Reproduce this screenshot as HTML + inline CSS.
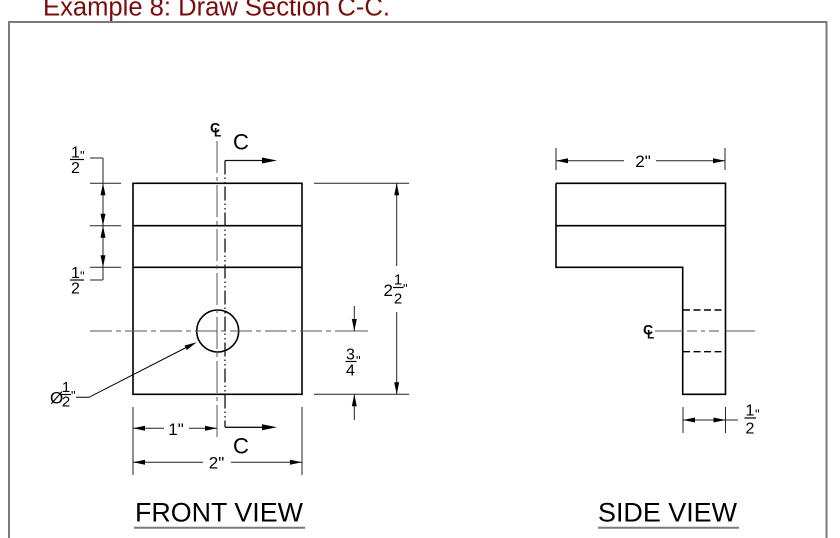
<!DOCTYPE html>
<html>
<head>
<meta charset="utf-8">
<style>
html,body{margin:0;padding:0;background:#fff;}
svg{display:block;}
text{font-family:"Liberation Sans",Arial,sans-serif;}
</style>
</head>
<body>
<svg width="840" height="538" viewBox="0 0 840 538" xmlns="http://www.w3.org/2000/svg">
<rect x="0" y="0" width="840" height="538" fill="#fff"/>
<!-- Title -->
<text x="43" y="15.5" font-size="25.5" fill="#7a0c0c" textLength="347" lengthAdjust="spacingAndGlyphs">Example 8: Draw Section C-C.</text>
<!-- Frame -->
<path d="M9 545 V22 H826.5 V545" stroke="#7a7a7a" stroke-width="2" fill="none"/>

<!-- ============ FRONT VIEW ============ -->
<g stroke="#000" stroke-width="1.6" fill="none">
  <rect x="133" y="183.3" width="169" height="211"/>
  <line x1="133" y1="225.7" x2="302" y2="225.7"/>
  <line x1="133" y1="267.3" x2="302" y2="267.3"/>
  <circle cx="217.7" cy="331" r="21"/>
</g>

<!-- centerlines -->
<g stroke="#555" stroke-width="1" fill="none">
  <line x1="217" y1="141" x2="217" y2="441" stroke-dasharray="32 4 4 4"/>
  <line x1="90" y1="331" x2="340" y2="331" stroke-dasharray="22 4 5 4"/>
  <line x1="340" y1="331" x2="368" y2="331"/>
</g>

<!-- CL symbol front -->
<text x="210" y="132.5" font-size="14" font-weight="bold" fill="#000">C</text>
<text x="214" y="136.5" font-size="12" font-weight="bold" fill="#000">L</text>

<!-- cutting plane C-C -->
<g stroke="#111" stroke-width="1.3" fill="none">
  <line x1="225" y1="160.5" x2="225" y2="427.3" stroke-dasharray="14 3 1.5 3 1.5 3"/>
  <line x1="225" y1="160.5" x2="264" y2="160.5"/>
  <line x1="225" y1="427.3" x2="264" y2="427.3"/>
</g>
<g fill="#000">
  <polygon points="262,157.5 277,160.5 262,163.5"/>
  <polygon points="262,424.3 277,427.3 262,430.3"/>
</g>
<text x="233" y="149.5" font-size="22" fill="#000">C</text>
<text x="233" y="453.5" font-size="22" fill="#000">C</text>

<!-- left dims -->
<g stroke="#222" stroke-width="1" fill="none">
  <line x1="90" y1="183.3" x2="121" y2="183.3"/>
  <line x1="90" y1="225.7" x2="121" y2="225.7"/>
  <line x1="90" y1="267.3" x2="121" y2="267.3"/>
  <line x1="103" y1="158" x2="103" y2="280"/>
  <line x1="90" y1="158" x2="103" y2="158"/>
  <line x1="90" y1="280" x2="103" y2="280"/>
</g>
<g fill="#000">
  <polygon points="103,183.3 100.5,195.3 105.5,195.3"/>
  <polygon points="103,225.7 100.5,213.7 105.5,213.7"/>
  <polygon points="103,225.7 100.5,237.7 105.5,237.7"/>
  <polygon points="103,267.3 100.5,255.3 105.5,255.3"/>
</g>
<g font-size="16" fill="#000">
  <text x="75.5" y="157.5" text-anchor="middle">1</text>
  <text x="75.5" y="173" text-anchor="middle">2</text>
  <text x="80" y="160" font-size="13">"</text>
  <text x="75.5" y="278" text-anchor="middle">1</text>
  <text x="75.5" y="293.5" text-anchor="middle">2</text>
  <text x="80" y="280.5" font-size="13">"</text>
</g>
<g stroke="#000" stroke-width="1.2">
  <line x1="70" y1="159.5" x2="84" y2="159.5"/>
  <line x1="70" y1="280" x2="84" y2="280"/>
</g>

<!-- right 2 1/2 dim -->
<g stroke="#222" stroke-width="1" fill="none">
  <line x1="314" y1="183.3" x2="409" y2="183.3"/>
  <line x1="314" y1="394.3" x2="409" y2="394.3"/>
  <line x1="396.7" y1="183.3" x2="396.7" y2="266"/>
  <line x1="396.7" y1="312" x2="396.7" y2="394.3"/>
  <line x1="354.3" y1="306" x2="354.3" y2="331"/>
  <line x1="354.3" y1="394.3" x2="354.3" y2="420"/>
</g>
<g fill="#000">
  <polygon points="396.7,183.3 394.2,195.3 399.2,195.3"/>
  <polygon points="396.7,394.3 394.2,382.3 399.2,382.3"/>
  <polygon points="354.3,331 351.8,319 356.8,319"/>
  <polygon points="354.3,394.3 351.8,406.3 356.8,406.3"/>
</g>
<text x="383.5" y="296" font-size="17" fill="#000">2</text>
<text x="398" y="284.5" font-size="15" fill="#000" text-anchor="middle">1</text>
<line x1="393" y1="287.5" x2="403.5" y2="287.5" stroke="#000" stroke-width="1.2"/>
<text x="398" y="303.5" font-size="15" fill="#000" text-anchor="middle">2</text>
<text x="403" y="293" font-size="13" fill="#000">"</text>

<text x="350.5" y="359.5" font-size="16" fill="#000" text-anchor="middle">3</text>
<line x1="345.5" y1="361.5" x2="356.5" y2="361.5" stroke="#000" stroke-width="1.2"/>
<text x="350.5" y="375.5" font-size="16" fill="#000" text-anchor="middle">4</text>
<text x="356" y="365" font-size="13" fill="#000">"</text>

<!-- bottom dims front -->
<g stroke="#222" stroke-width="1" fill="none">
  <line x1="133" y1="407" x2="133" y2="475"/>
  <line x1="302" y1="407" x2="302" y2="475"/>
  <line x1="133" y1="428.3" x2="164" y2="428.3"/>
  <line x1="189" y1="428.3" x2="217" y2="428.3"/>
  <line x1="133" y1="462.3" x2="203" y2="462.3"/>
  <line x1="231" y1="462.3" x2="302" y2="462.3"/>
</g>
<g fill="#000">
  <polygon points="133,428.3 145,425.8 145,430.8"/>
  <polygon points="217,428.3 205,425.8 205,430.8"/>
  <polygon points="133,462.3 145,459.8 145,464.8"/>
  <polygon points="302,462.3 290,459.8 290,464.8"/>
</g>
<text x="176" y="435" font-size="17" fill="#000" text-anchor="middle">1"</text>
<text x="216.5" y="468.5" font-size="17" fill="#000" text-anchor="middle">2"</text>

<!-- diameter leader -->
<polyline points="76,397.3 89,397.3 193,344" stroke="#000" stroke-width="1" fill="none"/>
<polygon points="196.7,342.3 184.5,345.5 186.8,350" fill="#000"/>
<text x="50" y="403.5" font-size="17" fill="#000">Ø</text>
<text x="66" y="392" font-size="15" fill="#000" text-anchor="middle">1</text>
<line x1="61" y1="394.5" x2="71" y2="394.5" stroke="#000" stroke-width="1.2"/>
<text x="66" y="406.5" font-size="15" fill="#000" text-anchor="middle">2</text>
<text x="71" y="400" font-size="13" fill="#000">"</text>

<!-- ============ SIDE VIEW ============ -->
<g stroke="#000" stroke-width="1.6" fill="none">
  <polyline points="556,183.3 725.5,183.3 725.5,394.3 682.7,394.3 682.7,267.3 556,267.3 556,183.3"/>
  <line x1="556" y1="225.7" x2="725.5" y2="225.7"/>
</g>
<g stroke="#000" stroke-width="1.4" fill="none" stroke-dasharray="7 3.5">
  <line x1="683" y1="310" x2="725" y2="310"/>
  <line x1="683" y1="351.7" x2="725" y2="351.7"/>
</g>
<g stroke="#555" stroke-width="1" fill="none">
  <line x1="655" y1="331" x2="683" y2="331"/>
  <line x1="687" y1="331" x2="722" y2="331" stroke-dasharray="10 4 4 4"/>
  <line x1="726" y1="331" x2="755" y2="331"/>
</g>
<text x="643" y="334.5" font-size="14" font-weight="bold" fill="#000">C</text>
<text x="647" y="338.5" font-size="12" font-weight="bold" fill="#000">L</text>

<!-- side top dim -->
<g stroke="#222" stroke-width="1" fill="none">
  <line x1="556" y1="148" x2="556" y2="170"/>
  <line x1="725" y1="148" x2="725" y2="170"/>
  <line x1="556" y1="160.7" x2="624" y2="160.7"/>
  <line x1="656" y1="160.7" x2="725" y2="160.7"/>
</g>
<g fill="#000">
  <polygon points="556,160.7 568,158.2 568,163.2"/>
  <polygon points="725,160.7 713,158.2 713,163.2"/>
</g>
<text x="643" y="167" font-size="17" fill="#000" text-anchor="middle">2"</text>

<!-- side bottom 1/2 dim -->
<g stroke="#222" stroke-width="1" fill="none">
  <line x1="683" y1="407" x2="683" y2="433"/>
  <line x1="725.5" y1="407" x2="725.5" y2="433"/>
  <line x1="683" y1="420" x2="738" y2="420"/>
</g>
<g fill="#000">
  <polygon points="683,420 695,417.5 695,422.5"/>
  <polygon points="725.5,420 713.5,417.5 713.5,422.5"/>
</g>
<text x="750" y="415.5" font-size="16" fill="#000" text-anchor="middle">1</text>
<line x1="744.5" y1="418" x2="756" y2="418" stroke="#000" stroke-width="1.2"/>
<text x="750" y="433.5" font-size="16" fill="#000" text-anchor="middle">2</text>
<text x="755" y="418.5" font-size="13" fill="#000">"</text>

<!-- Labels -->
<text x="135" y="521.7" font-size="27" fill="#000" textLength="168" lengthAdjust="spacingAndGlyphs">FRONT VIEW</text>
<line x1="134" y1="527.8" x2="305" y2="527.8" stroke="#7a7a7a" stroke-width="2"/>
<text x="598" y="521.7" font-size="27" fill="#000" textLength="139" lengthAdjust="spacingAndGlyphs">SIDE VIEW</text>
<line x1="598" y1="527.8" x2="739" y2="527.8" stroke="#7a7a7a" stroke-width="2"/>
</svg>
</body>
</html>
